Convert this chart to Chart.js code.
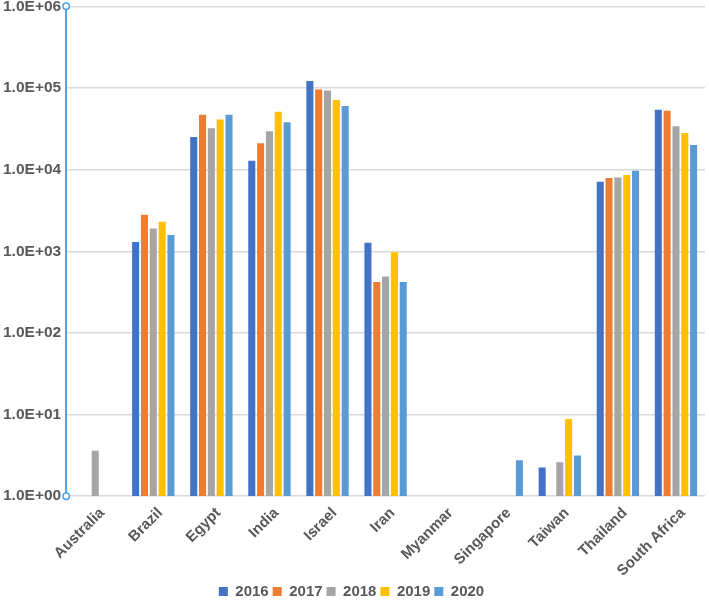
<!DOCTYPE html>
<html>
<head>
<meta charset="utf-8">
<script src="https://cdn.jsdelivr.net/npm/chart.js@4"></script>
<style>
  html, body { margin: 0; padding: 0; background: #fff; overflow: hidden; }
  #wrap { width: 711px; height: 617px; margin-top: -8px; margin-left: -2px; }
</style>
</head>
<body>
<div id="wrap"><canvas id="chart"></canvas></div>
<script>
// data
const countries = ["Australia", "Brazil", "Egypt", "India", "Israel", "Iran", "Myanmar", "Singapore", "Taiwan", "Thailand", "South Africa"];
const years = ["2016", "2017", "2018", "2019", "2020"];
const v2016 = [null, 1300, 25000, 12800, 122000, 1270, null, null, 2.25, 7100, 54000];
const v2017 = [null, 2800, 47000, 21000, 96000, 420, null, null, null, 7900, 52500];
const v2018 = [3.6, 1900, 32000, 29500, 93000, 490, null, null, 2.6, 8000, 34000];
const v2019 = [null, 2300, 41000, 51000, 71000, 970, null, null, 8.8, 8600, 28000];
const v2020 = [null, 1580, 47000, 38000, 60000, 420, null, 2.75, 3.15, 9700, 20000];
const yTicks = [1, 10, 100, 1000, 10000, 100000, 1000000];

const colors = ["#4472C4", "#ED7D31", "#A5A5A5", "#FFC000", "#5B9BD5"];
const series = [v2016, v2017, v2018, v2019, v2020];

const axisBlue = "#4FA3E6";

// little circles at both ends of the y axis line
const axisEnds = {
  id: "axisEnds",
  afterDraw(chart) {
    const ctx = chart.ctx;
    const a = chart.chartArea;
    ctx.save();
    ctx.strokeStyle = axisBlue;
    ctx.fillStyle = "#fff";
    ctx.lineWidth = 1.5;
    [a.top, a.bottom].forEach(y => {
      ctx.beginPath();
      ctx.arc(a.left, y, 3.2, 0, Math.PI * 2);
      ctx.fill();
      ctx.stroke();
    });
    ctx.restore();
  }
};

function sci(v) {
  const e = Math.round(Math.log10(v));
  return "1.0E+" + String(e).padStart(2, "0");
}

new Chart(document.getElementById("chart"), {
  type: "bar",
  data: {
    labels: countries,
    datasets: years.map((y, i) => ({
      label: y,
      data: series[i],
      backgroundColor: colors[i],
      barPercentage: 0.8,
      categoryPercentage: 0.76
    }))
  },
  options: {
    responsive: true,
    maintainAspectRatio: false,
    animation: false,
    layout: { padding: { top: 0, right: 4, left: 0, bottom: 0 } },
    scales: {
      x: {
        grid: { display: false },
        border: { display: false },
        ticks: {
          minRotation: 45,
          maxRotation: 45,
          labelOffset: 7,
          color: "#595959",
          font: { family: "Liberation Sans", size: 15, weight: "bold" },
          padding: 0
        }
      },
      y: {
        type: "logarithmic",
        min: 1,
        max: 1000000,
        afterBuildTicks(scale) {
          scale.ticks = yTicks.map(v => ({ value: v }));
        },
        ticks: {
          color: "#595959",
          font: { family: "Liberation Sans", size: 15.5, weight: "bold" },
          padding: 5,
          callback: v => sci(v)
        },
        grid: { color: "#D9D9D9", lineWidth: 1.5, drawTicks: false },
        border: { color: axisBlue, width: 2 }
      }
    },
    plugins: {
      legend: {
        position: "bottom",
        labels: {
          boxWidth: 9,
          boxHeight: 9,
          padding: 4,
          color: "#595959",
          font: { family: "Liberation Sans", size: 15, weight: "bold" }
        }
      },
      tooltip: { enabled: false }
    }
  },
  plugins: [axisEnds]
});
</script>
</body>
</html>
